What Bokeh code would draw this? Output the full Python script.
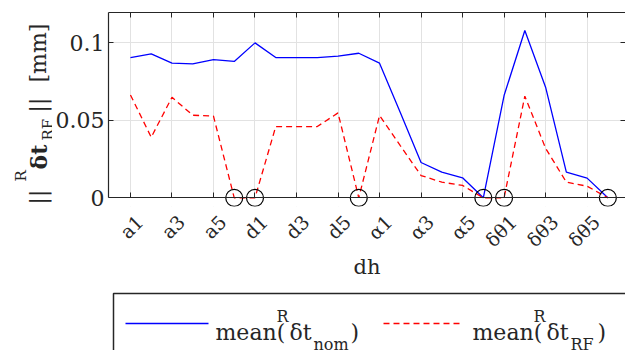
import numpy as np
from bokeh.plotting import figure
from bokeh.models import Range1d, FixedTicker, LinearAxis, BoxAnnotation
from bokeh.layouts import column, row
from bokeh.core.properties import value
from bokeh.embed import file_html
from bokeh.resources import INLINE

# ---------------- data ----------------
categories = ["a1", "a2", "a3", "a4", "a5", "a6",
              "d1", "d2", "d3", "d4", "d5", "d6",
              "α1", "α2", "α3", "α4", "α5", "α6",
              "δθ1", "δθ2", "δθ3", "δθ4", "δθ5", "δθ6"]
nom_vals = [0.0905, 0.0929, 0.0869, 0.0864, 0.0892, 0.0880,
            0.1000, 0.0905, 0.0905, 0.0905, 0.0914, 0.0933,
            0.0869, 0.0550, 0.0228, 0.0166, 0.0129, 0.0,
            0.0660, 0.1080, 0.0714, 0.0166, 0.0127, 0.0]
rf_vals = [0.0664, 0.0391, 0.0649, 0.0533, 0.0527, 0.0,
           0.0, 0.0460, 0.0460, 0.0460, 0.0548, 0.0,
           0.0531, 0.0337, 0.0144, 0.0101, 0.0080, 0.0,
           0.0, 0.0656, 0.0320, 0.0101, 0.0075, 0.0]
y_ticks = [0, 0.05, 0.1]
y_tick_labels = ["0", "0.05", "0.1"]
x_tick_step = 2

FONT = "DejaVu Serif"
AX = "#262626"
GRID = "#e2e2e2"
BLUE = "#0000ff"
RED = "#ff0000"

x_idx = list(range(len(categories)))
x_ticks = x_idx[::x_tick_step]
marker_idx = [i for i, v in enumerate(rf_vals) if v == 0]
marker_val = [rf_vals[i] for i in marker_idx]

X_START, X_END = -1.058, 23.85
Y_START, Y_END = -0.0056, 0.1196
LABEL_SHIFT = 0.45  # rotated tick labels sit a bit right of their tick

STRIP_W = 52

# ---------------- main plot ----------------
p = figure(width=625 - STRIP_W, height=285, output_backend="svg", toolbar_location=None,
           x_range=Range1d(X_START, X_END), y_range=Range1d(Y_START, Y_END),
           min_border_left=107 - STRIP_W, min_border_right=0, min_border_top=12,
           min_border_bottom=79, frame_align=False)
p.outline_line_color = None

# cover grid below y=0 (circles hang below the axis line)
p.add_layout(BoxAnnotation(top=0, fill_color="white", fill_alpha=1.0,
                           line_color=None, level="underlay"))

p.line(x_idx, nom_vals, line_color=BLUE, line_width=1.3)
p.line(x_idx, rf_vals, line_color=RED, line_width=1.3, line_dash="6 4")
p.scatter(marker_idx, marker_val, marker="circle", size=17, fill_color=None,
          line_color="black", line_width=1.2)


def style_axis(ax):
    ax.axis_line_color = AX
    ax.axis_line_width = 1.2
    ax.major_tick_line_color = AX
    ax.major_tick_line_width = 1.0
    ax.major_tick_in = 5
    ax.major_tick_out = 0
    ax.minor_tick_line_color = None
    ax.major_label_text_font = FONT
    ax.major_label_text_color = AX
    ax.major_label_text_font_size = "19px"


def hide_labels(ax, ticks):
    ax.major_label_overrides = {t: "" for t in ticks}
    ax.major_label_text_font_size = "1px"
    ax.major_label_standoff = 0


# bottom axis: only the rotated labels + "dh"
lab_pos = [t + LABEL_SHIFT for t in x_ticks]
xa = p.xaxis[0]
style_axis(xa)
xa.ticker = FixedTicker(ticks=lab_pos)
xa.major_label_overrides = {lp: categories[t] for lp, t in zip(lab_pos, x_ticks)}
xa.major_label_orientation = np.pi / 4
xa.axis_line_color = None
xa.major_tick_line_color = None
xa.major_label_standoff = 12
xa.axis_label = "dh"
xa.axis_label_text_font = FONT
xa.axis_label_text_font_size = "21px"
xa.axis_label_text_font_style = "normal"
xa.axis_label_text_color = AX
xa.axis_label_standoff = -7

p.xgrid[0].ticker = FixedTicker(ticks=x_ticks)
p.xgrid.grid_line_color = GRID
p.ygrid.grid_line_color = GRID

# visible x axis line at y = 0 with inward ticks
zero_ax = LinearAxis(ticker=FixedTicker(ticks=x_ticks), fixed_location=0,
                     bounds=(X_START, X_END))
style_axis(zero_ax)
zero_ax.major_tick_in = 0
zero_ax.major_tick_out = 5
hide_labels(zero_ax, x_ticks)
p.add_layout(zero_ax, "above")

# top border
top = LinearAxis(ticker=FixedTicker(ticks=x_ticks))
style_axis(top)
hide_labels(top, x_ticks)
p.add_layout(top, "above")

# left axis
ya = p.yaxis[0]
ya.ticker = FixedTicker(ticks=y_ticks)
ya.major_label_overrides = dict(zip(y_ticks, y_tick_labels))
ya.bounds = (0, Y_END)
style_axis(ya)
ya.major_label_text_font_size = "22px"
ya.major_label_standoff = 4

# right ticks
right = LinearAxis(ticker=FixedTicker(ticks=y_ticks), bounds=(0, Y_END))
style_axis(right)
right.axis_line_color = None
hide_labels(right, y_ticks)
p.add_layout(right, "right")

# ---------------- y label strip ----------------
s = figure(width=STRIP_W, height=285, output_backend="svg", toolbar_location=None,
           x_range=Range1d(0, STRIP_W), y_range=Range1d(285, 0), min_border=0,
           x_axis_location=None, y_axis_location=None, frame_align=False)
s.outline_line_color = None
s.grid.grid_line_color = None
ylab_pieces = [  # text, baseline x, start y, size, style
    ("||", 38, 204, "22px", "normal"),
    ("R", 20, 181, "15px", "normal"),
    ("δt", 38, 169, "22px", "bold"),
    ("RF", 47, 140, "15px", "normal"),
    ("||", 38, 112, "22px", "normal"),
    ("[mm]", 38, 82, "22px", "normal"),
]
for t, x, y, sz, st in ylab_pieces:
    s.text(x=[x], y=[y], text=[t], angle=np.pi / 2, text_font=value(FONT),
           text_font_size=value(sz), text_font_style=st, text_color=AX,
           text_align="left", text_baseline="alphabetic")

# ---------------- legend strip ----------------
lg = figure(width=625, height=65, output_backend="svg", toolbar_location=None,
            x_range=Range1d(0, 625), y_range=Range1d(65, 0), min_border=0,
            x_axis_location=None, y_axis_location=None, frame_align=False)
lg.outline_line_color = None
lg.grid.grid_line_color = None
LT = 285  # legend strip top in page coords

lg.quad(left=113, right=660, top=293 - LT, bottom=400 - LT, fill_color=None,
        line_color=AX, line_width=1.5)
lg.line([125, 208], [323 - LT] * 2, line_color=BLUE, line_width=1.3)
lg.line([383, 463], [323 - LT] * 2, line_color=RED, line_width=1.3, line_dash="6 4")

pieces = [  # text, x, baseline y (page), size
    ("mean(", 215, 332, "22px"), ("R", 276, 316, "16px"), ("δt", 289, 332, "22px"),
    ("nom", 313, 344, "16px"), (")", 350, 332, "22px"),
    ("mean(", 472, 332, "22px"), ("R", 533, 316, "16px"), ("δt", 546, 332, "22px"),
    ("RF", 570, 344, "16px"), (")", 597, 332, "22px"),
]
for t, x, y, sz in pieces:
    lg.text(x=[x], y=[y - LT], text=[t], text_font=value(FONT),
            text_font_size=value(sz), text_color=AX, text_align="left",
            text_baseline="alphabetic")

layout = column(row(s, p, spacing=0), lg, spacing=0)
open("out.html", "w").write(file_html(layout, INLINE))
